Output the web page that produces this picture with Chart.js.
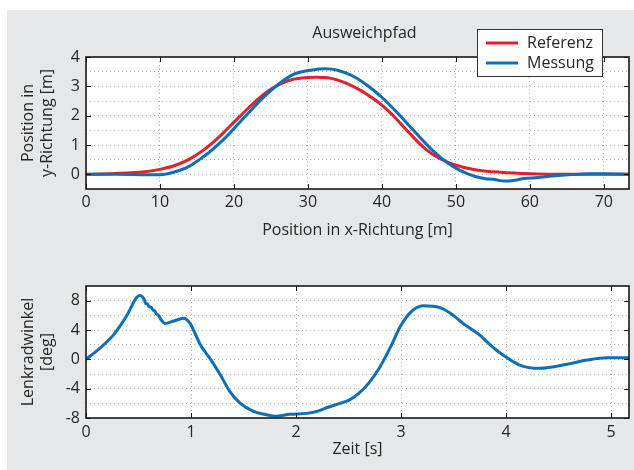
<!DOCTYPE html>
<html>
<head>
<meta charset="utf-8">
<script src="https://cdn.jsdelivr.net/npm/chart.js@4/dist/chart.umd.min.js"></script>
<style>
  html, body { margin: 0; padding: 0; background: #fff; }
  #wrap { position: relative; width: 634px; height: 470px; overflow: hidden; }
  #panel { position: absolute; left: 7px; top: 10px; right: 0; bottom: 0; background: #e6e7e8; }
  canvas { position: absolute; left: 0; }
</style>
</head>
<body>
<div id="wrap">
  <div id="panel"></div>
  <canvas id="path" width="634" height="240" style="top:0"></canvas>
  <canvas id="steer" width="634" height="230" style="top:240px"></canvas>
</div>
<script>
// Ausweichpfad: Referenz
const refX = [0, 3, 6, 8, 10, 12, 14, 16, 18, 20, 22, 24, 26, 28, 30, 31.2, 33, 35, 37, 39, 40, 41, 42, 43, 44, 45, 46, 47, 48, 49, 50, 51, 53, 56, 60, 65, 73.4];
const refY = [0, 0.02, 0.05, 0.09, 0.17, 0.3, 0.52, 0.85, 1.28, 1.78, 2.27, 2.72, 3.05, 3.24, 3.3, 3.31, 3.28, 3.13, 2.88, 2.55, 2.36, 2.13, 1.88, 1.6, 1.33, 1.07, 0.84, 0.66, 0.52, 0.4, 0.31, 0.24, 0.14, 0.07, 0.02, 0, 0];

// Ausweichpfad: Messung
const measX = [0, 4, 8, 10, 11, 12.7, 14, 15.3, 16.5, 18, 19.5, 20.7, 22, 23.4, 25.7, 27.9, 30.6, 32.4, 34, 36, 38, 39, 40, 41, 42, 43, 44, 45, 46, 47, 48, 49, 50, 51, 52, 53, 54, 55, 56.6, 58, 59, 61.1, 63, 65.6, 68, 70, 72, 73.4];
const measY = [0, 0, -0.01, -0.01, 0.02, 0.14, 0.28, 0.5, 0.72, 1.05, 1.42, 1.75, 2.1, 2.48, 3.01, 3.39, 3.56, 3.6, 3.55, 3.36, 3.04, 2.84, 2.62, 2.38, 2.12, 1.85, 1.57, 1.3, 1.03, 0.78, 0.56, 0.37, 0.21, 0.08, -0.02, -0.1, -0.15, -0.17, -0.23, -0.2, -0.15, -0.11, -0.06, -0.01, 0.02, 0.02, 0.01, 0];

// Lenkradwinkel über Zeit
const timeS = [0, 0.13, 0.26, 0.39, 0.48, 0.51, 0.55, 0.57, 0.585, 0.6, 0.62, 0.64, 0.655, 0.67, 0.69, 0.72, 0.75, 0.83, 0.93, 0.99, 1.04, 1.09, 1.18, 1.28, 1.37, 1.47, 1.59, 1.7, 1.8, 1.94, 2.1, 2.2, 2.29, 2.42, 2.5, 2.6, 2.7, 2.8, 2.9, 2.99, 3.09, 3.21, 3.37, 3.47, 3.59, 3.75, 3.85, 3.97, 4.13, 4.32, 4.58, 4.77, 4.96, 5.17];
const steerDeg = [0, 1.5, 3.3, 6.0, 8.4, 8.7, 8.3, 7.6, 7.55, 7.2, 7.1, 6.7, 6.6, 6.2, 6.0, 5.3, 4.9, 5.2, 5.6, 4.9, 3.5, 1.95, 0.13, -2.14, -4.4, -6.0, -7.05, -7.5, -7.75, -7.5, -7.37, -7.1, -6.6, -6.0, -5.6, -4.6, -3.1, -1.0, 1.7, 4.4, 6.4, 7.3, 7.05, 6.3, 4.9, 3.3, 1.95, 0.6, -0.78, -1.23, -0.68, -0.1, 0.22, 0.22];

const RED = '#e3202b';
const BLUE = '#0d6fb8';
const INK = '#262626';

Chart.defaults.font.family = '"Open Sans", sans-serif';
Chart.defaults.font.size = 16;
Chart.defaults.color = INK;

const pts = (xs, ys) => xs.map((x, i) => ({ x, y: ys[i] }));

// white plot area, black box, inward ticks at labelled values
const frame = {
  id: 'frame',
  beforeDraw(chart) {
    const { ctx, chartArea: a } = chart;
    ctx.save();
    ctx.fillStyle = '#fff';
    ctx.fillRect(a.left, a.top, a.width, a.height);
    ctx.restore();
  },
  afterDatasetsDraw(chart) {
    const { ctx, chartArea: a, scales } = chart;
    ctx.save();
    ctx.strokeStyle = '#1a1a1a';
    ctx.lineWidth = 1;
    ctx.beginPath();
    scales.x.ticks.forEach((t) => {
      if (t.label === '') return;
      const px = Math.round(scales.x.getPixelForValue(t.value)) + 0.5;
      ctx.moveTo(px, a.bottom); ctx.lineTo(px, a.bottom - 5);
      ctx.moveTo(px, a.top); ctx.lineTo(px, a.top + 5);
    });
    scales.y.ticks.forEach((t) => {
      if (t.label === '') return;
      const py = Math.round(scales.y.getPixelForValue(t.value)) + 0.5;
      ctx.moveTo(a.left, py); ctx.lineTo(a.left + 5, py);
      ctx.moveTo(a.right, py); ctx.lineTo(a.right - 5, py);
    });
    ctx.stroke();
    ctx.lineWidth = 1.6;
    ctx.strokeRect(a.left, a.top, a.width, a.height);
    ctx.restore();
  }
};

// title and boxed legend for the path chart
const annot = {
  id: 'annot',
  afterDraw(chart) {
    const { ctx, chartArea: a } = chart;
    ctx.save();
    ctx.fillStyle = INK;
    ctx.font = '16px "Open Sans", sans-serif';
    ctx.textAlign = 'center';
    ctx.textBaseline = 'middle';
    ctx.fillText('Ausweichpfad', (a.left + a.right) / 2 + 7, 33);

    const bx = 477, by = 29, bw = 125, bh = 47;
    ctx.fillStyle = '#fff';
    ctx.fillRect(bx, by, bw, bh);
    ctx.strokeStyle = '#333';
    ctx.lineWidth = 1;
    ctx.strokeRect(bx + 0.5, by + 0.5, bw, bh);
    ctx.textAlign = 'left';
    chart.data.datasets.forEach((ds, i) => {
      const y = by + 14 + i * 20;
      ctx.strokeStyle = ds.borderColor;
      ctx.lineWidth = 3;
      ctx.beginPath();
      ctx.moveTo(bx + 9, y); ctx.lineTo(bx + 41, y);
      ctx.stroke();
      ctx.fillStyle = INK;
      ctx.fillText(ds.label, bx + 50, y);
    });
    ctx.restore();
  }
};

const gridOpts = { color: '#b5b5b5', lineWidth: 1, drawTicks: false };
const borderOpts = { display: false, dash: [1, 3] };

function yTitle(lines) {
  return { display: true, text: lines, padding: { top: 19, bottom: 0 }, font: { size: 16, lineHeight: 1.2 } };
}

new Chart(document.getElementById('path'), {
  type: 'scatter',
  data: {
    datasets: [
      { label: 'Referenz', data: pts(refX, refY), borderColor: RED, backgroundColor: RED, order: 1 },
      { label: 'Messung', data: pts(measX, measY), borderColor: BLUE, backgroundColor: BLUE, order: 0 }
    ]
  },
  options: {
    responsive: false,
    animation: false,
    showLine: true,
    layout: { padding: { top: 57, right: 5, left: 0, bottom: 0 } },
    elements: {
      point: { radius: 0, hoverRadius: 0 },
      line: { borderWidth: 3, cubicInterpolationMode: 'monotone' }
    },
    plugins: { legend: { display: false }, tooltip: { enabled: false }, title: { display: false } },
    scales: {
      x: {
        type: 'linear', min: 0, max: 73.4,
        grid: gridOpts, border: borderOpts,
        ticks: { stepSize: 10, includeBounds: false, autoSkip: false, padding: 4, maxRotation: 0 },
        title: { display: true, text: 'Position in x-Richtung [m]', padding: { top: 0, bottom: 0 } },
        afterFit: (s) => { s.height = 51; }
      },
      y: {
        type: 'linear', min: -0.5, max: 4,
        grid: gridOpts, border: borderOpts,
        ticks: { stepSize: 0.5, autoSkip: false, padding: 6, callback: (v) => (Number.isInteger(v) ? v : '') },
        title: yTitle(['Position in', 'y-Richtung [m]']),
        afterFit: (s) => { s.width = 86; }
      }
    }
  },
  plugins: [frame, annot]
});

new Chart(document.getElementById('steer'), {
  type: 'scatter',
  data: {
    datasets: [
      { label: 'Lenkradwinkel', data: pts(timeS, steerDeg), borderColor: BLUE, backgroundColor: BLUE }
    ]
  },
  options: {
    responsive: false,
    animation: false,
    showLine: true,
    layout: { padding: { top: 46, right: 5, left: 0, bottom: 0 } },
    elements: {
      point: { radius: 0, hoverRadius: 0 },
      line: { borderWidth: 3, cubicInterpolationMode: 'monotone' }
    },
    plugins: { legend: { display: false }, tooltip: { enabled: false }, title: { display: false } },
    scales: {
      x: {
        type: 'linear', min: 0, max: 5.17,
        grid: gridOpts, border: borderOpts,
        ticks: { stepSize: 1, includeBounds: false, autoSkip: false, padding: 5, maxRotation: 0 },
        title: { display: true, text: 'Zeit [s]', padding: { top: 0, bottom: 11 } },
        afterFit: (s) => { s.height = 52; }
      },
      y: {
        type: 'linear', min: -8, max: 10,
        grid: gridOpts, border: borderOpts,
        ticks: { stepSize: 2, autoSkip: false, padding: 6, callback: (v) => (v % 4 === 0 ? v : '') },
        title: yTitle(['Lenkradwinkel', '[deg]']),
        afterFit: (s) => { s.width = 86; }
      }
    }
  },
  plugins: [frame]
});
</script>
</body>
</html>
